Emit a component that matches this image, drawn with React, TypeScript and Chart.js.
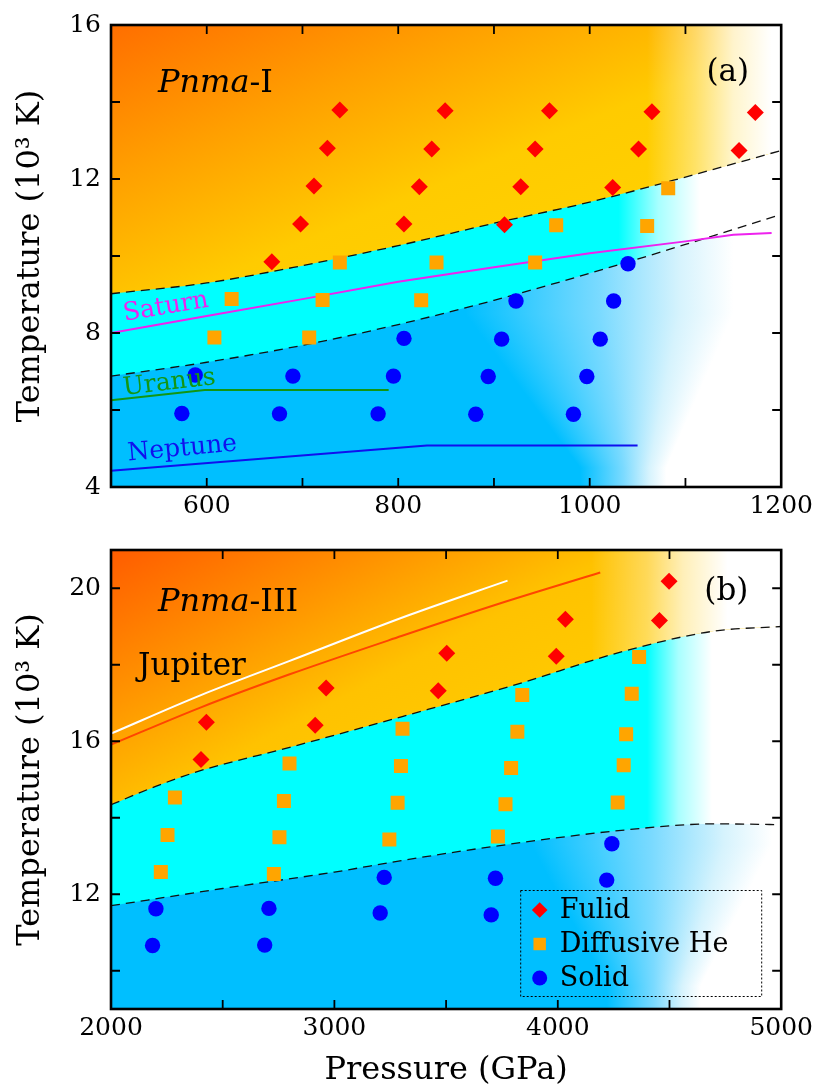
import React, { useEffect, useRef } from 'react';
import { Chart, registerables } from 'chart.js';

Chart.register(...registerables);

const SERIF = '"DejaVu Serif", "Liberation Serif", serif';

// ---------------- shared text ----------------
const SERIES_LABELS = ['Fulid', 'Diffusive He', 'Solid'];
const Y_TITLE = 'Temperature (10³ K)';
const X_TITLE = 'Pressure (GPa)';

// ---------------- panel (a) ----------------
const A_X_TICKS = [500, 600, 700, 800, 900, 1000, 1100, 1200];
const A_X_LABELS = [600, 800, 1000, 1200];
const A_Y_TICKS = [4, 6, 8, 10, 12, 14, 16];
const A_Y_LABELS = [4, 8, 12, 16];

const A_FLUID_P = [668, 698, 712, 726, 739, 806, 822, 835, 849, 911, 928, 943, 958, 1024, 1051, 1065, 1156, 1173];
const A_FLUID_T = [9.85, 10.83, 11.82, 12.8, 13.79, 10.83, 11.8, 12.78, 13.77, 10.81, 11.8, 12.78, 13.77, 11.78, 12.78, 13.75, 12.74, 13.73];

const A_DIFF_P = [608, 626, 707, 721, 739, 824, 840, 943, 965, 1060, 1082];
const A_DIFF_T = [7.88, 8.88, 7.88, 8.86, 9.83, 8.85, 9.83, 9.83, 10.8, 10.78, 11.76];

const A_SOLID_P = [574, 588, 676, 690, 779, 795, 806, 881, 894, 908, 923, 983, 997, 1011, 1025, 1040];
const A_SOLID_T = [5.91, 6.91, 5.9, 6.88, 5.9, 6.88, 7.86, 5.89, 6.87, 7.84, 8.83, 5.89, 6.87, 7.84, 8.83, 9.8];

const A_UPPER_P = [500, 600, 700, 800, 900, 1000, 1100, 1200];
const A_UPPER_T = [9.02, 9.3, 9.75, 10.27, 10.85, 11.4, 12.05, 12.74];
const A_LOWER_P = [500, 600, 700, 800, 900, 1000, 1100, 1200];
const A_LOWER_T = [6.88, 7.24, 7.68, 8.22, 8.85, 9.55, 10.3, 11.08];

const SATURN_P = [500, 600, 700, 800, 900, 1000, 1100, 1150, 1190];
const SATURN_T = [8.0, 8.44, 8.88, 9.33, 9.71, 10.07, 10.38, 10.55, 10.6];
const URANUS_P = [500, 598, 790];
const URANUS_T = [6.25, 6.52, 6.52];
const NEPTUNE_P = [500, 830, 1050];
const NEPTUNE_T = [4.42, 5.08, 5.08];

// ---------------- panel (b) ----------------
const B_X_TICKS = [2000, 2500, 3000, 3500, 4000, 4500, 5000];
const B_X_LABELS = [2000, 3000, 4000, 5000];
const B_Y_TICKS = [10, 12, 14, 16, 18, 20];
const B_Y_LABELS = [12, 16, 20];

const B_FLUID_P = [2403, 2427, 2914, 2963, 3465, 3503, 3993, 4034, 4455, 4498];
const B_FLUID_T = [15.52, 16.5, 16.42, 17.39, 17.32, 18.3, 18.22, 19.19, 19.16, 20.18];

const B_DIFF_P = [2223, 2253, 2286, 2729, 2754, 2774, 2799, 3246, 3283, 3298, 3305, 3732, 3766, 3791, 3819, 3841, 4268, 4295, 4306, 4331, 4364];
const B_DIFF_T = [12.58, 13.55, 14.53, 12.53, 13.49, 14.44, 15.42, 13.43, 14.39, 15.35, 16.33, 13.51, 14.35, 15.3, 16.25, 17.21, 14.4, 15.37, 16.18, 17.24, 18.2];

const B_SOLID_P = [2186, 2201, 2688, 2707, 3205, 3223, 3702, 3721, 4219, 4242];
const B_SOLID_T = [10.66, 11.62, 10.67, 11.63, 11.51, 12.44, 11.46, 12.42, 12.37, 13.32];

const B_UPPER_P = [2000, 2200, 2400, 2800, 3300, 3800, 4300, 4700, 5000];
const B_UPPER_T = [14.34, 14.82, 15.23, 15.84, 16.64, 17.46, 18.36, 18.88, 19.0];
const B_LOWER_P = [2000, 2500, 3000, 3300, 3700, 4300, 4700, 5000];
const B_LOWER_T = [11.7, 12.15, 12.58, 12.88, 13.24, 13.68, 13.84, 13.82];

const JUP_WHITE_P = [2000, 2400, 2800, 3335, 3775];
const JUP_WHITE_T = [16.2, 17.2, 18.1, 19.3, 20.2];
const JUP_RED_P = [2000, 2400, 2800, 3300, 3740, 4190];
const JUP_RED_T = [15.91, 16.88, 17.75, 18.75, 19.6, 20.41];

// ---------------- helpers ----------------
const xy = (P: number[], T: number[]) => P.map((p, i) => ({ x: p, y: T[i] }));

type Stop = [number, string];

function xGradient(chart: any, stops: Stop[]) {
  const { ctx, scales } = chart;
  const px = (v: number) => scales.x.getPixelForValue(v);
  const x0 = px(stops[0][0]);
  const x1 = px(stops[stops.length - 1][0]);
  const g = ctx.createLinearGradient(x0, 0, x1, 0);
  for (const [v, c] of stops) g.addColorStop(Math.min(1, Math.max(0, (px(v) - x0) / (x1 - x0))), c);
  return g;
}

function diagGradient(chart: any, dir: [number, number], stops: Stop[]) {
  const { ctx, chartArea: a } = chart;
  const L = stops[stops.length - 1][0];
  const g = ctx.createLinearGradient(a.left, a.top, a.left + dir[0] * L, a.top + dir[1] * L);
  for (const [d, c] of stops) g.addColorStop(d / L, c);
  return g;
}

const safe = (fn: (chart: any) => any) => (c: any) => (c.chart.chartArea ? fn(c.chart) : 'rgba(0,0,0,0)');

type Seg = { t: string; italic?: boolean };
type Note = { segs: Seg[]; x: number; y: number; color: string; size: number; angle?: number };
type Curve = { P: number[]; T: number[]; color: string; width: number; smooth?: boolean };
type FadeRow = { T: number; start: number; end: number };

type Panel = {
  xMin: number; xMax: number; yMin: number; yMax: number;
  xTicks: number[]; xLabels: number[]; yTicks: number[]; yLabels: number[];
  fluid: [number[], number[]]; diff: [number[], number[]]; solid: [number[], number[]];
  upper: [number[], number[]]; lower: [number[], number[]];
  curves: Curve[];
  notes: Note[];
  blueFade: [FadeRow, FadeRow];
  bg: { cyan: (ch: any) => any; orange: (ch: any) => any; fade: (ch: any) => any };
  padTop: number; xHeight: number; canvasH: number;
  xTitle: boolean; legend: boolean;
};

const RED = '#FF0000';
const ORANGE = '#FFA500';
const BLUE = '#0000FF';

const PANEL_A: Panel = {
  xMin: 500, xMax: 1200, yMin: 4, yMax: 16,
  xTicks: A_X_TICKS, xLabels: A_X_LABELS, yTicks: A_Y_TICKS, yLabels: A_Y_LABELS,
  fluid: [A_FLUID_P, A_FLUID_T], diff: [A_DIFF_P, A_DIFF_T], solid: [A_SOLID_P, A_SOLID_T],
  upper: [A_UPPER_P, A_UPPER_T], lower: [A_LOWER_P, A_LOWER_T],
  curves: [
    { P: SATURN_P, T: SATURN_T, color: '#EE22EE', width: 2 },
    { P: URANUS_P, T: URANUS_T, color: '#139613', width: 2 },
    { P: NEPTUNE_P, T: NEPTUNE_T, color: '#1010EE', width: 2 },
  ],
  notes: [
    { segs: [{ t: 'Pnma', italic: true }, { t: '-I' }], x: 549, y: 14.27, color: '#000', size: 32 },
    { segs: [{ t: '(a)' }], x: 1122, y: 14.55, color: '#000', size: 31 },
    { segs: [{ t: 'Saturn' }], x: 514, y: 8.32, color: '#EE22EE', size: 25, angle: -9.4 },
    { segs: [{ t: 'Uranus' }], x: 513.5, y: 6.39, color: '#139613', size: 25, angle: -6.8 },
    { segs: [{ t: 'Neptune' }], x: 518, y: 4.69, color: '#1010EE', size: 25, angle: -5.2 },
  ],
  blueFade: [{ T: 4.5, start: 990, end: 1080 }, { T: 8.5, start: 870, end: 1150 }],
  bg: {
    cyan: (ch) => xGradient(ch, [[1030, '#00FFFF'], [1072, '#A8FFFF'], [1115, '#FFFFFF']]),
    orange: (ch) => diagGradient(ch, [0.39, 0.92], [[0, '#FF6E00'], [140, '#FF9F00'], [275, '#FFCB00'], [420, '#FFD200']]),
    fade: (ch) => xGradient(ch, [[1060, 'rgba(255,255,255,0)'], [1110, 'rgba(255,255,255,0.4)'], [1150, 'rgba(255,255,255,0.8)'], [1190, 'rgba(255,255,255,1)']]),
  },
  padTop: 15, xHeight: 38, canvasH: 525, xTitle: false, legend: false,
};

const PANEL_B: Panel = {
  xMin: 2000, xMax: 5000, yMin: 9, yMax: 21,
  xTicks: B_X_TICKS, xLabels: B_X_LABELS, yTicks: B_Y_TICKS, yLabels: B_Y_LABELS,
  fluid: [B_FLUID_P, B_FLUID_T], diff: [B_DIFF_P, B_DIFF_T], solid: [B_SOLID_P, B_SOLID_T],
  upper: [B_UPPER_P, B_UPPER_T], lower: [B_LOWER_P, B_LOWER_T],
  curves: [
    { P: JUP_WHITE_P, T: JUP_WHITE_T, color: '#FFFFFF', width: 2, smooth: true },
    { P: JUP_RED_P, T: JUP_RED_T, color: '#FF4500', width: 2, smooth: true },
  ],
  notes: [
    { segs: [{ t: 'Pnma', italic: true }, { t: '-III' }], x: 2210, y: 19.4, color: '#000', size: 32 },
    { segs: [{ t: 'Jupiter' }], x: 2121, y: 17.73, color: '#000', size: 31 },
    { segs: [{ t: '(b)' }], x: 4656, y: 19.69, color: '#000', size: 31 },
  ],
  blueFade: [{ T: 9.6, start: 4220, end: 4640 }, { T: 13.3, start: 3880, end: 4960 }],
  bg: {
    cyan: (ch) => xGradient(ch, [[4400, '#00FFFF'], [4540, '#A8FFFF'], [4690, '#FFFFFF']]),
    orange: (ch) => diagGradient(ch, [0.47, 0.88], [[0, '#FF5C00'], [120, '#FF8E00'], [240, '#FFC200'], [400, '#FFCE00']]),
    fade: (ch) => xGradient(ch, [[4150, 'rgba(255,255,255,0)'], [4400, 'rgba(255,255,255,0.35)'], [4560, 'rgba(255,255,255,0.72)'], [4760, 'rgba(255,255,255,1)']]),
  },
  padTop: 13.4, xHeight: 83, canvasH: 567, xTitle: true, legend: true,
};

function drawMarker(ctx: CanvasRenderingContext2D, style: string, x: number, y: number, r: number, color: string) {
  ctx.fillStyle = color;
  ctx.beginPath();
  if (style === 'rectRot') {
    ctx.moveTo(x - r, y); ctx.lineTo(x, y - r); ctx.lineTo(x + r, y); ctx.lineTo(x, y + r); ctx.closePath();
  } else if (style === 'rect') {
    const s = r * Math.SQRT1_2;
    ctx.rect(x - s, y - s, 2 * s, 2 * s);
  } else {
    ctx.arc(x, y, r, 0, Math.PI * 2);
  }
  ctx.fill();
}

function buildConfig(p: Panel): any {
  const fillSet = (P: number[], T: number[], fill: string, bg: (ch: any) => any) => ({
    type: 'line', data: xy(P, T), showLine: true, borderWidth: 0, borderColor: 'rgba(0,0,0,0)',
    pointRadius: 0, fill, backgroundColor: safe(bg), cubicInterpolationMode: 'monotone',
  });
  const datasets: any[] = [
    { type: 'scatter', label: SERIES_LABELS[0], data: xy(p.fluid[0], p.fluid[1]), pointStyle: 'rectRot', pointRadius: 8.5,
      pointBackgroundColor: RED, pointBorderColor: RED, pointBorderWidth: 0, showLine: false },
    { type: 'scatter', label: SERIES_LABELS[1], data: xy(p.diff[0], p.diff[1]), pointStyle: 'rect', pointRadius: 9.9,
      pointBackgroundColor: ORANGE, pointBorderColor: ORANGE, pointBorderWidth: 0, showLine: false },
    { type: 'scatter', label: SERIES_LABELS[2], data: xy(p.solid[0], p.solid[1]), pointStyle: 'circle', pointRadius: 7.7,
      pointBackgroundColor: BLUE, pointBorderColor: BLUE, pointBorderWidth: 0, showLine: false },
    ...p.curves.map((c) => ({
      type: 'line', data: xy(c.P, c.T), showLine: true, borderColor: c.color, borderWidth: c.width,
      pointRadius: 0, fill: false, tension: 0, cubicInterpolationMode: c.smooth ? 'monotone' : 'default',
    })),
    { type: 'line', data: xy(p.upper[0], p.upper[1]), showLine: true, borderColor: '#111', borderWidth: 1.3,
      borderDash: [9, 6], pointRadius: 0, fill: false, cubicInterpolationMode: 'monotone' },
    { type: 'line', data: xy(p.lower[0], p.lower[1]), showLine: true, borderColor: '#111', borderWidth: 1.3,
      borderDash: [9, 6], pointRadius: 0, fill: false, cubicInterpolationMode: 'monotone' },
    fillSet(p.upper[0], p.upper[1], 'end', p.bg.fade),
    fillSet(p.upper[0], p.upper[1], 'end', p.bg.orange),
    fillSet(p.lower[0], p.lower[1], 'end', p.bg.cyan),
  ];

  // solid-phase background (under the other fills), fading to white with a y-dependent width
  const blueLayer = {
    id: 'blueLayer',
    beforeDraw(chart: any) {
      const { ctx, chartArea: a, scales } = chart;
      const [r0, r1] = p.blueFade;
      ctx.save();
      ctx.beginPath();
      ctx.rect(a.left, a.top, a.right - a.left, a.bottom - a.top);
      ctx.clip();
      for (let y = Math.floor(a.top); y < a.bottom; y += 1) {
        const T = scales.y.getValueForPixel(y + 0.5);
        const f = Math.min(1, Math.max(0, (T - r0.T) / (r1.T - r0.T)));
        const s = r0.start + (r1.start - r0.start) * f;
        const e = r0.end + (r1.end - r0.end) * f;
        const x0 = scales.x.getPixelForValue(s);
        const x1 = scales.x.getPixelForValue(e);
        const g = ctx.createLinearGradient(x0, 0, x1, 0);
        g.addColorStop(0, '#00BFFF');
        g.addColorStop(0.5, '#7ADAFF');
        g.addColorStop(0.8, '#D6F3FD');
        g.addColorStop(1, '#FFFFFF');
        ctx.fillStyle = g;
        ctx.fillRect(a.left, y, a.right - a.left, 1.2);
      }
      ctx.restore();
    },
  };

  const framePlugin = {
    id: 'frameTicks',
    afterDraw(chart: any) {
      const { ctx, chartArea: a, scales } = chart;
      ctx.save();
      ctx.strokeStyle = '#000';
      ctx.lineWidth = 1.8;
      ctx.beginPath();
      for (const v of p.xTicks) {
        if (v <= p.xMin || v >= p.xMax) continue;
        const x = scales.x.getPixelForValue(v);
        ctx.moveTo(x, a.bottom); ctx.lineTo(x, a.bottom - 9);
        ctx.moveTo(x, a.top); ctx.lineTo(x, a.top + 9);
      }
      for (const v of p.yTicks) {
        if (v <= p.yMin || v >= p.yMax) continue;
        const y = scales.y.getPixelForValue(v);
        ctx.moveTo(a.left, y); ctx.lineTo(a.left + 9, y);
        ctx.moveTo(a.right, y); ctx.lineTo(a.right - 9, y);
      }
      ctx.stroke();
      ctx.lineWidth = 2.6;
      ctx.strokeRect(a.left, a.top, a.right - a.left, a.bottom - a.top);
      ctx.restore();
    },
  };

  const notesPlugin = {
    id: 'notes',
    afterDatasetsDraw(chart: any) {
      const { ctx, scales } = chart;
      for (const n of p.notes) {
        const x = scales.x.getPixelForValue(n.x);
        const y = scales.y.getPixelForValue(n.y);
        ctx.save();
        ctx.translate(x, y);
        ctx.rotate(((n.angle || 0) * Math.PI) / 180);
        ctx.fillStyle = n.color;
        ctx.textAlign = 'left';
        ctx.textBaseline = 'alphabetic';
        let cx = 0;
        for (const s of n.segs) {
          ctx.font = `${s.italic ? 'italic ' : ''}${n.size}px ${SERIF}`;
          ctx.fillText(s.t, cx, 0);
          cx += ctx.measureText(s.t).width;
        }
        ctx.restore();
      }
      if (p.legend) {
        const a = chart.chartArea;
        const w = 241, h = 106;
        const bx = a.right - 20 - w, by = a.bottom - 13 - h;
        ctx.save();
        ctx.strokeStyle = '#000';
        ctx.lineWidth = 1;
        ctx.setLineDash([2, 2]);
        ctx.strokeRect(bx + 0.5, by + 0.5, w, h);
        ctx.setLineDash([]);
        const styles = [['rectRot', 7.8, RED], ['rect', 8.8, ORANGE], ['circle', 7.5, BLUE]] as const;
        ctx.font = `27px ${SERIF}`;
        ctx.textBaseline = 'middle';
        ctx.textAlign = 'left';
        for (let i = 0; i < 3; i++) {
          const ry = by + 20 + i * 34;
          drawMarker(ctx, styles[i][0], bx + 19.5, ry, styles[i][1], styles[i][2]);
          ctx.fillStyle = '#000';
          ctx.fillText(chart.data.datasets[i].label, bx + 39.5, ry + 1);
        }
        ctx.restore();
      }
    },
  };

  return {
    type: 'scatter',
    data: { datasets },
    plugins: [blueLayer, notesPlugin, framePlugin],
    options: {
      animation: false,
      responsive: false,
      devicePixelRatio: 1,
      events: [],
      layout: { padding: { top: p.padTop, right: 34, bottom: 0, left: 0 } },
      plugins: {
        legend: { display: false },
        tooltip: { enabled: false },
        filler: { drawTime: 'beforeDatasetsDraw', propagate: false },
      },
      scales: {
        x: {
          type: 'linear', min: p.xMin, max: p.xMax,
          afterBuildTicks: (s: any) => { s.ticks = p.xTicks.map((v) => ({ value: v })); },
          afterFit: (s: any) => { s.height = p.xHeight; },
          grid: { display: false, drawTicks: false },
          border: { display: false },
          ticks: {
            autoSkip: false, maxRotation: 0, minRotation: 0, padding: 4, color: '#000',
            font: { family: SERIF, size: 25 },
            callback: (v: any) => (p.xLabels.includes(Number(v)) ? String(v) : ''),
          },
          title: {
            display: p.xTitle, text: X_TITLE, color: '#000',
            font: { family: SERIF, size: 32 }, padding: { top: 0, bottom: 2 },
          },
        },
        y: {
          type: 'linear', min: p.yMin, max: p.yMax,
          afterBuildTicks: (s: any) => { s.ticks = p.yTicks.map((v) => ({ value: v })); },
          afterFit: (s: any) => { s.width = 111; },
          grid: { display: false, drawTicks: false },
          border: { display: false },
          ticks: {
            autoSkip: false, padding: 10, color: '#000',
            font: { family: SERIF, size: 25 },
            callback: (v: any) => (p.yLabels.includes(Number(v)) ? String(v) : ''),
          },
          title: {
            display: true, text: Y_TITLE, color: '#000',
            font: { family: SERIF, size: 32 }, padding: { top: 11, bottom: 0 },
          },
        },
      },
    },
  };
}

export default function App() {
  const aRef = useRef<HTMLCanvasElement>(null);
  const bRef = useRef<HTMLCanvasElement>(null);
  useEffect(() => {
    const ca = new Chart(aRef.current as HTMLCanvasElement, buildConfig(PANEL_A));
    const cb = new Chart(bRef.current as HTMLCanvasElement, buildConfig(PANEL_B));
    return () => {
      ca.destroy();
      cb.destroy();
    };
  }, []);
  return (
    <div style={{ position: 'absolute', left: 0, top: 0, width: 817, height: 1092, background: '#fff' }}>
      <canvas ref={aRef} width={817} height={525}
        style={{ position: 'absolute', left: 0, top: 0, width: 817, height: 525 }} />
      <canvas ref={bRef} width={817} height={567}
        style={{ position: 'absolute', left: 0, top: 525, width: 817, height: 567 }} />
    </div>
  );
}
